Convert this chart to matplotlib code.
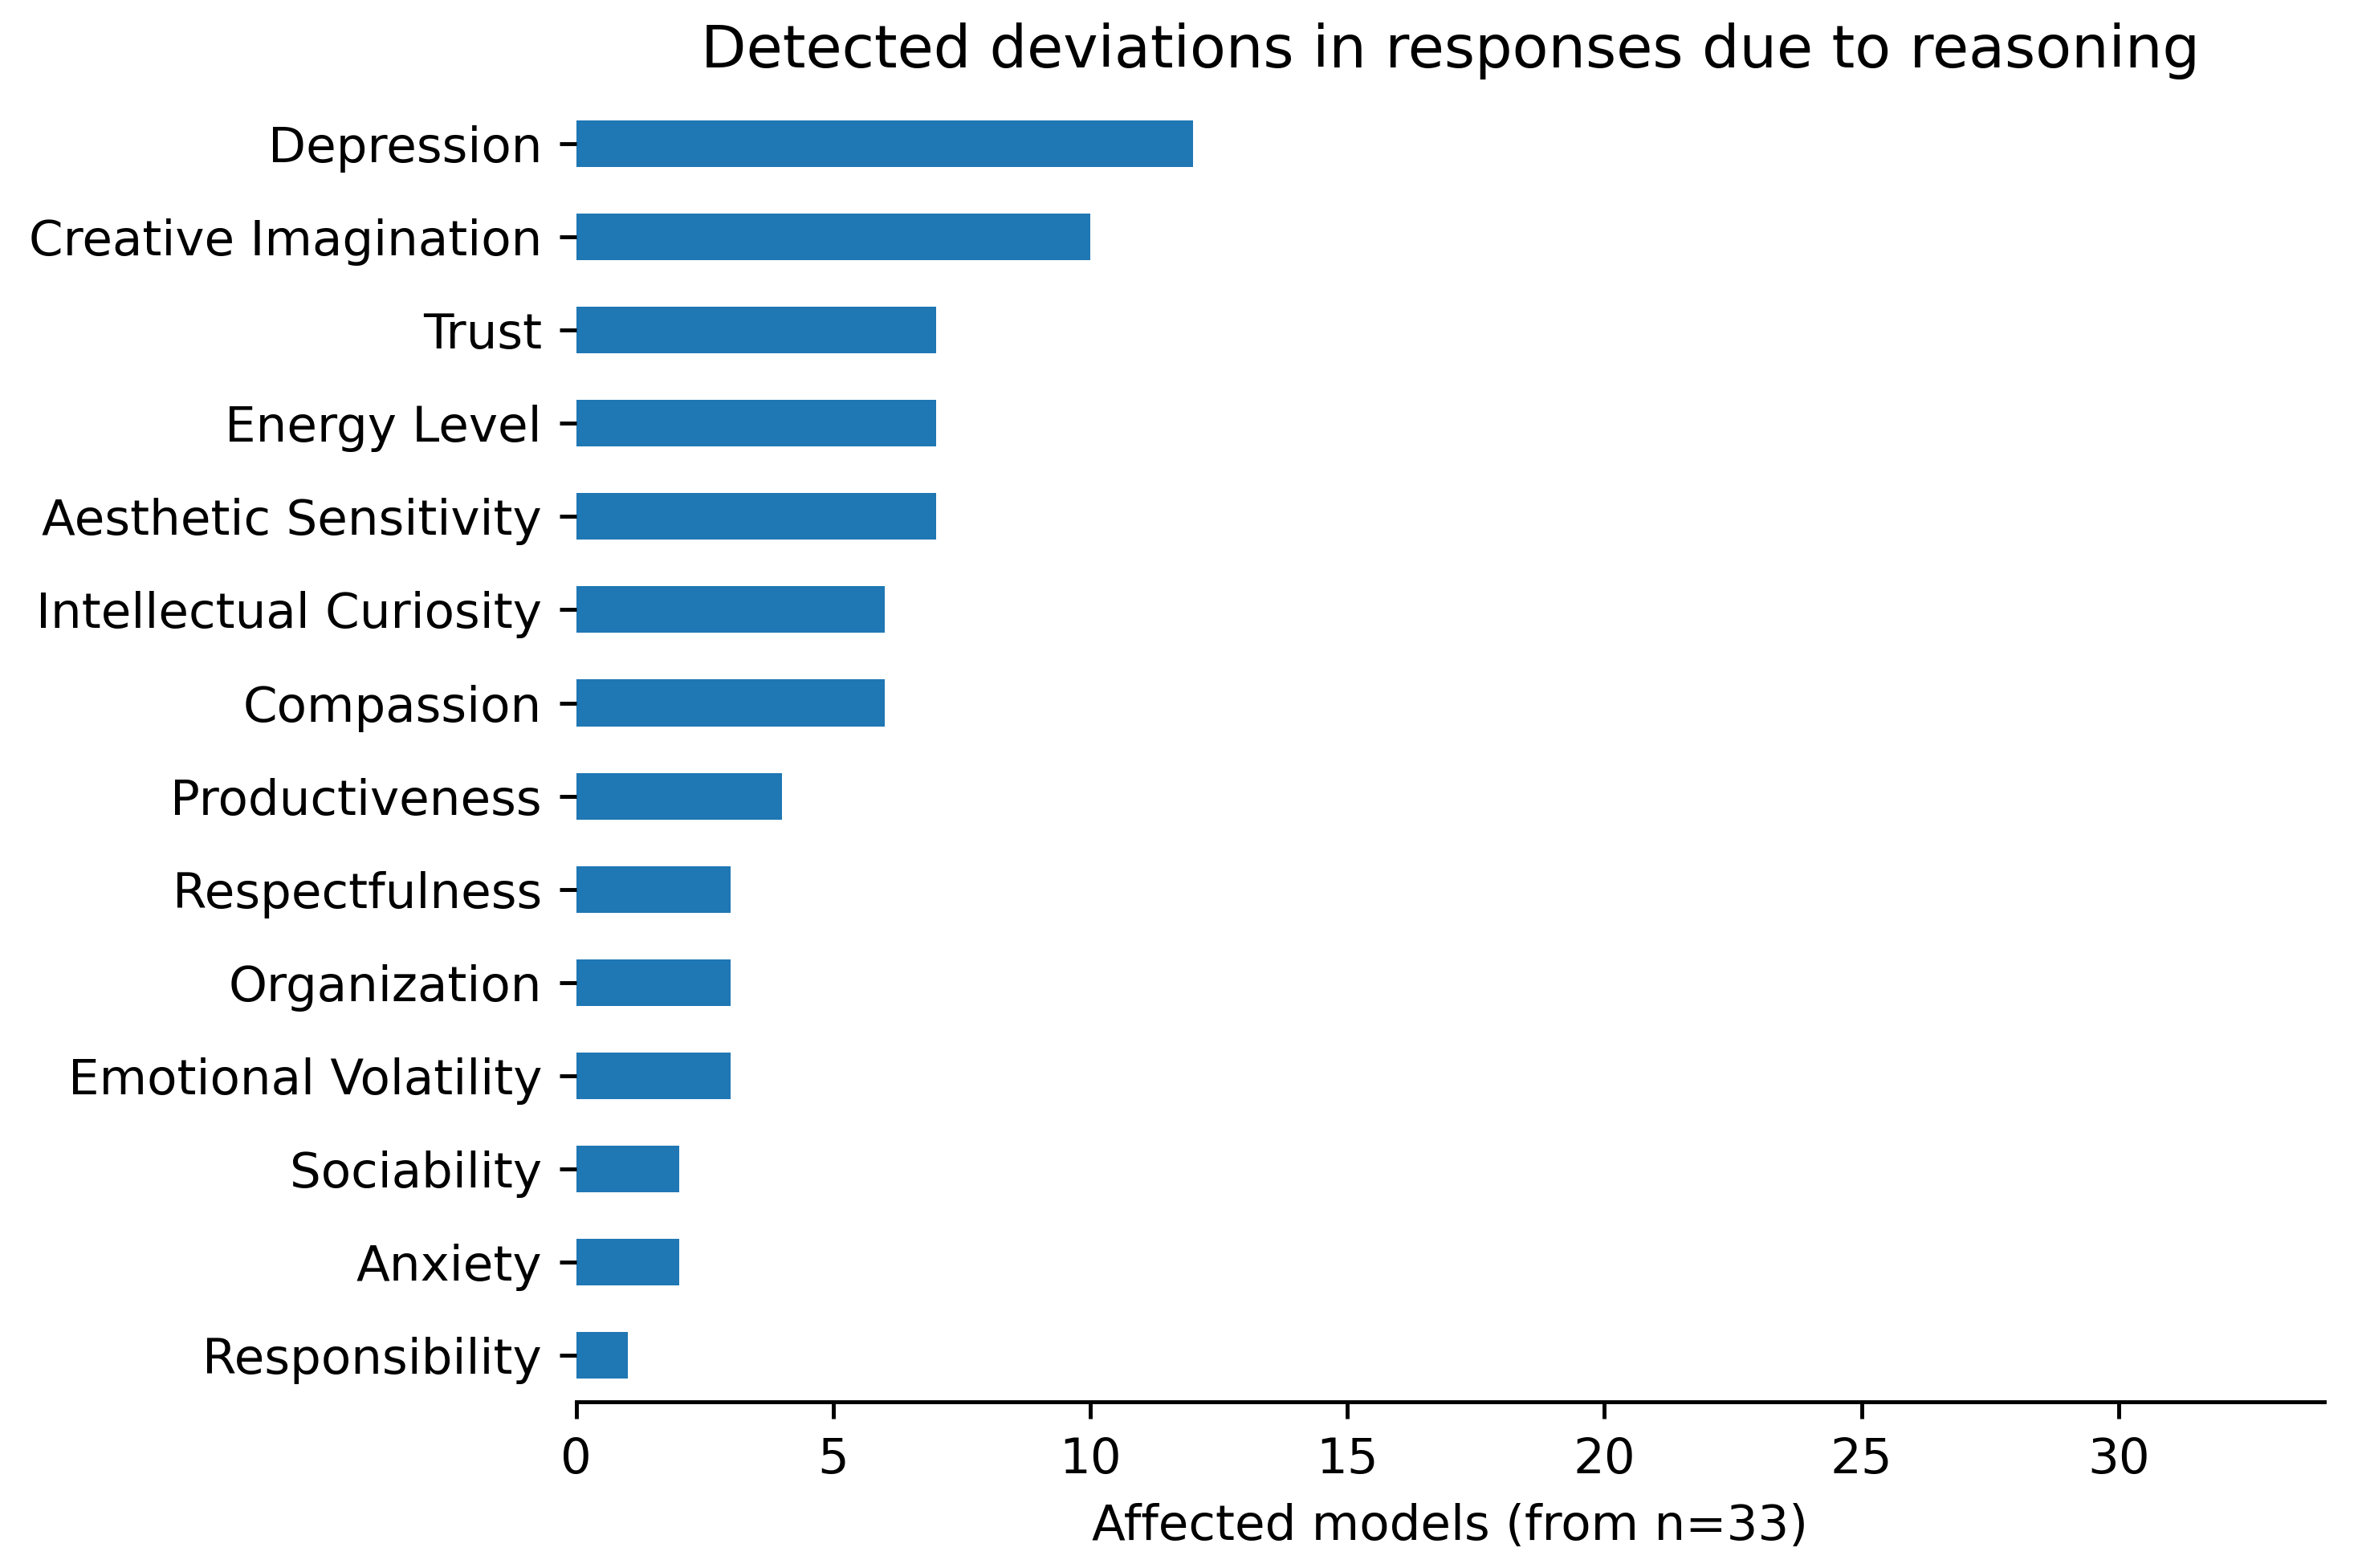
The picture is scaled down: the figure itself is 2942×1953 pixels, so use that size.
import matplotlib
matplotlib.use("Agg")
import matplotlib.pyplot as plt

traits = ["Responsibility", "Anxiety", "Sociability", "Emotional Volatility",
          "Organization", "Respectfulness", "Productiveness", "Compassion",
          "Intellectual Curiosity", "Aesthetic Sensitivity", "Energy Level",
          "Trust", "Creative Imagination", "Depression"]
affected = [1, 2, 2, 3, 3, 3, 4, 6, 6, 7, 7, 7, 10, 12]
n_models = 33

dpi = 440
fig = plt.figure(figsize=(2942 / dpi, 1953 / dpi), dpi=dpi)
ax = fig.add_axes([0.244, 0.106, 0.740, 0.832])

ax.barh(range(len(traits)), affected, height=0.5, color="#1f77b4")
ax.set_yticks(range(len(traits)))
ax.set_yticklabels(traits)
ax.set_ylim(-0.5, len(traits) - 0.5)
ax.set_xlim(0, 34)

ax.spines['top'].set_visible(False)
ax.spines['right'].set_visible(False)
ax.spines['left'].set_visible(False)

ax.set_xlabel("Affected models (from n=%d)" % n_models)
ax.set_title("Detected deviations in responses due to reasoning", fontsize=12)

fig.savefig("out.png", dpi=dpi)
